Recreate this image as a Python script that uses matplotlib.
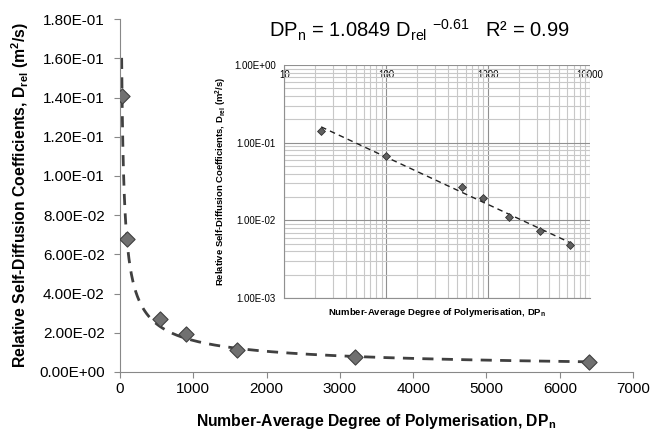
import numpy as np
import matplotlib.pyplot as plt
import matplotlib.ticker as ticker

plt.rcParams['font.family'] = ['Liberation Sans', 'DejaVu Sans']

# measured data
dp = [23, 100, 550, 900, 1600, 3200, 6400]
d_rel = [0.141, 0.068, 0.027, 0.0195, 0.011, 0.0074, 0.0049]

# power-law fit from the equation on the chart
fit_a = 1.0849
fit_b = -0.61

x_fit = np.geomspace(dp[0], dp[-1], 300)
y_fit = fit_a * x_fit ** fit_b

fig = plt.figure(figsize=(6.52, 4.34), dpi=100)

# main linear plot
ax = fig.add_axes([0.184, 0.143, 0.787, 0.813])
ax.plot(x_fit, y_fit, color='#404040', lw=2, dashes=(4, 3), zorder=2)
ax.scatter(dp, d_rel, marker='D', s=60, color='#707070', edgecolor='#404040',
           linewidth=0.8, zorder=3)
ax.set_xlim(0, 7000)
ax.set_ylim(0, 0.18)
ax.xaxis.set_major_locator(ticker.MultipleLocator(1000))
ax.yaxis.set_major_locator(ticker.MultipleLocator(0.02))
ax.yaxis.set_major_formatter(ticker.FuncFormatter(
    lambda v, p: '%.2E' % v))
for s in ['top', 'right']:
    ax.spines[s].set_visible(False)
for s in ['left', 'bottom']:
    ax.spines[s].set_color('#888888')
ax.tick_params(colors='#888888', labelcolor='black', labelsize=11, length=4)
ax.tick_params(axis='x', pad=3)
ax.tick_params(axis='y', pad=7)
ax.set_xlabel('Number-Average Degree of Polymerisation, DP$_\\mathregular{n}$',
              fontsize=11.3, fontweight='bold', labelpad=12)
ax.set_ylabel('Relative Self-Diffusion Coefficients, D$_\\mathregular{rel}$ (m$^\\mathregular{2}$/s)',
              fontsize=11.3, fontweight='bold', labelpad=6)

fig.text(0.643, 0.93,
         'DP$_\\mathregular{n}$ = 1.0849 D$_\\mathregular{rel}$ $^\\mathregular{-0.61}$   R² = 0.99',
         fontsize=14.5, ha='center', va='center')

# inset log-log plot
ins = fig.add_axes([0.436, 0.313, 0.469, 0.537])
ins.set_facecolor('white')
ins.set_xscale('log')
ins.set_yscale('log')
ins.set_xlim(10, 10000)
ins.set_ylim(1e-3, 1)
ins.grid(True, which='major', color='#909090', lw=0.8)
ins.grid(True, which='minor', color='#c8c8c8', lw=0.8)
ins.set_axisbelow(True)
ins.plot(x_fit, y_fit, color='#202020', lw=1, dashes=(4, 3), zorder=2)
ins.scatter(dp, d_rel, marker='D', s=16, color='#606060', edgecolor='#303030',
            linewidth=0.6, zorder=3)
for s in ['top', 'right']:
    ins.spines[s].set_visible(False)
for s in ['left', 'bottom']:
    ins.spines[s].set_color('#909090')
ins.yaxis.set_major_locator(ticker.LogLocator(base=10, numticks=10))
ins.yaxis.set_major_formatter(ticker.FuncFormatter(lambda v, p: '%.2E' % v))
ins.yaxis.set_minor_formatter(ticker.NullFormatter())
ins.xaxis.set_major_formatter(ticker.FuncFormatter(lambda v, p: '%d' % v))
ins.xaxis.set_minor_formatter(ticker.NullFormatter())
ins.tick_params(axis='y', which='both', labelsize=7, length=0, pad=6)
ins.tick_params(axis='x', which='both', length=0, labelsize=7,
                bottom=False, labelbottom=False, top=False, labeltop=True,
                pad=-11)
ins.set_xlabel('Number-Average Degree of Polymerisation, DP$_\\mathregular{n}$',
               fontsize=6.8, fontweight='bold', labelpad=6)
ins.set_ylabel('Relative Self-Diffusion Coefficients, D$_\\mathregular{rel}$ (m$^\\mathregular{2}$/s)',
               fontsize=6.8, fontweight='bold', labelpad=4)
ins.xaxis.set_label_position('bottom')

fig.savefig('out.png', dpi=100)
